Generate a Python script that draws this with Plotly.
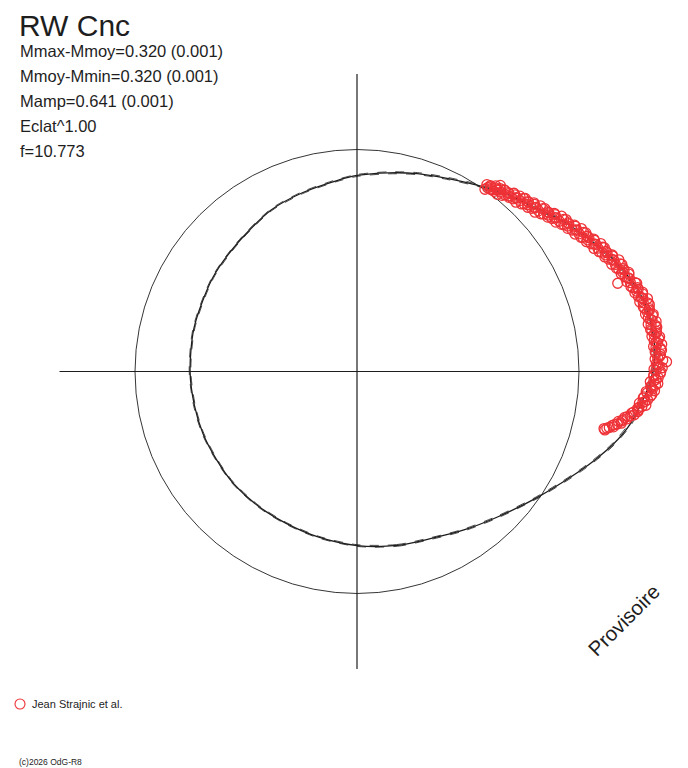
import numpy as np
import plotly.graph_objects as go

# ---------------- data ----------------
title = "RW Cnc"
info_lines = ["Mmax-Mmoy=0.320 (0.001)", "Mmoy-Mmin=0.320 (0.001)",
              "Mamp=0.641 (0.001)", "Eclat^1.00", "f=10.773"]
legend_label = "Jean Strajnic et al."
credit = "(c)2026 OdG-R8"
watermark = "Provisoire"

# fitted light curve in polar form: angle (deg, counter-clockwise from +x) and radius (relative flux)
fit_angle = [-90, -77, -66, -56, -46, -35, -28, -24, -20, -16, -11, -6, -2, 2, 5, 8, 14, 21,
             29, 36, 42, 50, 57, 65, 73, 81, 90, 96, 107, 118, 133, 147, 165, 180, 192, 202,
             212, 222, 234, 245, 257, 270]
fit_radius = [0.784, 0.804, 0.823, 0.861, 0.911, 0.990, 1.055, 1.100, 1.148, 1.198, 1.252,
              1.292, 1.322, 1.340, 1.346, 1.343, 1.330, 1.282, 1.211, 1.150, 1.094, 1.045,
              1.000, 0.960, 0.932, 0.906, 0.883, 0.865, 0.842, 0.824, 0.790, 0.775, 0.760,
              0.752, 0.748, 0.748, 0.747, 0.751, 0.752, 0.755, 0.766, 0.784]
fit_error = 0.005

# observations (angle deg, radius), two interleaved runs
obs_angle_a = [55.2, 54.6, 54.1, 53.5, 53.0, 52.4, 51.9, 51.2, 50.8, 50.1, 49.5, 48.9, 48.2, 47.6,
               47.1, 46.4, 45.8, 45.1, 44.6, 43.9, 43.3, 42.8, 42.1, 41.5, 40.9, 40.2, 39.6, 39.0,
               38.4, 37.9, 37.2, 36.6, 36.0, 35.4, 34.9, 34.2, 33.6, 33.0, 32.5, 31.8, 31.2, 30.7,
               30.0, 29.5, 28.9, 28.3, 27.7, 27.1, 26.6, 26.0, 25.4, 24.8, 24.3, 23.7, 23.1, 22.5,
               22.0, 21.4, 20.8, 20.3, 19.7, 19.1, 18.7, 18.0, 17.5, 16.9, 16.3, 15.8, 15.2, 14.6,
               14.1, 13.5, 12.9, 12.4, 11.8, 11.2, 10.7, 10.1, 9.5, 9.0, 8.4, 7.9, 7.3, 6.8, 6.2,
               5.7, 5.1, 4.6, 4.0, 3.5, 2.9, 2.4, 1.8, 1.3, 0.7, 0.2, -0.4, -0.9, -1.5, -2.0, -2.6,
               -3.1, -3.7, -4.2, -4.8, -5.3, -5.9, -6.4, -7.0, -7.5, -8.1, -8.6, -9.2, -9.7, -10.3,
               -10.8, -11.4, -11.9, -12.5, -13.0, 52.4]
obs_radius_a = [1.025, 1.016, 1.027, 1.019, 1.036, 1.032, 1.046, 1.036, 1.053, 1.038, 1.054, 1.041,
                1.067, 1.059, 1.078, 1.063, 1.087, 1.066, 1.085, 1.067, 1.098, 1.087, 1.113, 1.092,
                1.120, 1.100, 1.122, 1.105, 1.138, 1.128, 1.157, 1.135, 1.164, 1.143, 1.163, 1.147,
                1.181, 1.172, 1.198, 1.177, 1.205, 1.183, 1.206, 1.188, 1.222, 1.213, 1.240, 1.219,
                1.246, 1.226, 1.247, 1.230, 1.263, 1.255, 1.282, 1.260, 1.287, 1.266, 1.287, 1.269,
                1.301, 1.291, 1.240, 1.295, 1.321, 1.299, 1.320, 1.301, 1.333, 1.323, 1.349, 1.326,
                1.351, 1.327, 1.345, 1.325, 1.355, 1.343, 1.366, 1.341, 1.365, 1.341, 1.359, 1.338,
                1.367, 1.354, 1.378, 1.351, 1.375, 1.349, 1.366, 1.344, 1.395, 1.355, 1.375, 1.347,
                1.366, 1.337, 1.348, 1.322, 1.346, 1.327, 1.343, 1.311, 1.327, 1.295, 1.305, 1.280,
                1.293, 1.275, 1.278, 1.252, 1.249, 1.224, 1.218, 1.199, 1.196, 1.176, 1.164, 1.142,
                1.058]
obs_angle_b = [54.93, 54.33, 53.83, 53.23, 52.73, 52.13, 51.63, 50.93, 50.53, 49.83, 49.23, 48.63,
               47.93, 47.33, 46.83, 46.13, 45.53, 44.83, 44.33, 43.63, 43.03, 42.53, 41.83, 41.23,
               40.63, 39.93, 39.33, 38.73, 38.13, 37.63, 36.93, 36.33, 35.73, 35.13, 34.63, 33.93,
               33.33, 32.73, 32.23, 31.53, 30.93, 30.43, 29.73, 29.23, 28.63, 28.03, 27.43, 26.83,
               26.33, 25.73, 25.13, 24.53, 24.03, 23.43, 22.83, 22.23, 21.73, 21.13, 20.53, 20.03,
               19.43, 18.83, 18.43, 17.73, 17.23, 16.63, 16.03, 15.53, 14.93, 14.33, 13.83, 13.23,
               12.63, 12.13, 11.53, 10.93, 10.43, 9.83, 9.23, 8.73, 8.13, 7.63, 7.03, 6.53, 5.93,
               5.43, 4.83, 4.33, 3.73, 3.23, 2.63, 2.13, 1.53, 1.03, 0.43, -0.07, -0.67, -1.17,
               -1.77, -2.27, -2.87, -3.37, -3.97, -4.47, -5.07, -5.57, -6.17, -6.67, -7.27, -7.77,
               -8.37, -8.87, -9.47, -9.97, -10.57, -11.07, -11.67, -12.17, -12.77, -13.27]
obs_radius_b = [1.003, 1.030, 1.019, 1.044, 1.020, 1.036, 1.018, 1.053, 1.028, 1.055, 1.045, 1.070,
                1.048, 1.064, 1.046, 1.082, 1.058, 1.086, 1.075, 1.101, 1.077, 1.093, 1.076, 1.113,
                1.091, 1.120, 1.112, 1.139, 1.117, 1.134, 1.120, 1.156, 1.135, 1.163, 1.153, 1.181,
                1.160, 1.178, 1.161, 1.198, 1.176, 1.203, 1.196, 1.222, 1.201, 1.219, 1.203, 1.240,
                1.217, 1.246, 1.237, 1.264, 1.242, 1.261, 1.245, 1.281, 1.258, 1.286, 1.277, 1.303,
                1.280, 1.297, 1.281, 1.316, 1.292, 1.319, 1.310, 1.335, 1.312, 1.329, 1.312, 1.347,
                1.322, 1.347, 1.335, 1.359, 1.334, 1.349, 1.329, 1.362, 1.336, 1.361, 1.349, 1.372,
                1.346, 1.360, 1.341, 1.372, 1.346, 1.369, 1.356, 1.378, 1.349, 1.361, 1.338, 1.368,
                1.337, 1.357, 1.338, 1.356, 1.325, 1.333, 1.306, 1.332, 1.298, 1.315, 1.295, 1.310,
                1.280, 1.279, 1.259, 1.264, 1.235, 1.234, 1.213, 1.213, 1.184, 1.182, 1.154, 1.147]

# ---------------- layout constants ----------------
page_margin = 8            # the browser's default body margin
W, H = 688 - page_margin, 768 - page_margin
cx, cy = 357.0 - page_margin, 371.5 - page_margin   # pixel position of the origin in the figure
unit = 222.0               # pixels per unit radius
axis_half = 1.34
ink = "#1e1e1e"
red = "#ee3237"


def px(v):
    return v - page_margin


def polar_xy(ang, rad):
    a = np.deg2rad(np.asarray(ang, float))
    r = np.asarray(rad, float)
    return r * np.cos(a), r * np.sin(a)


fig = go.Figure()

fx, fy = polar_xy(fit_angle, fit_radius)
for k, dash, w in [(1 + fit_error, "dash", 0.8), (1 - fit_error, "dash", 0.8), (1.0, "solid", 1.3)]:
    fig.add_trace(go.Scatter(x=fx * k, y=fy * k, mode="lines",
                             line=dict(color=ink, width=w, dash=dash, shape="spline", smoothing=0.8),
                             hoverinfo="skip", showlegend=False))

ox, oy = polar_xy(obs_angle_a + obs_angle_b, obs_radius_a + obs_radius_b)
fig.add_trace(go.Scatter(x=ox, y=oy, mode="markers", name=legend_label,
                         marker=dict(symbol="circle-open", size=10, color=red,
                                     line=dict(width=1.3, color=red)),
                         showlegend=False))

shapes = [
    dict(type="line", xref="x", yref="y", x0=-axis_half, x1=axis_half, y0=0, y1=0,
         line=dict(color=ink, width=1.2), layer="below"),
    dict(type="line", xref="x", yref="y", x0=0, x1=0, y0=-axis_half, y1=axis_half,
         line=dict(color=ink, width=1.2), layer="below"),
    dict(type="circle", xref="x", yref="y", x0=-1, x1=1, y0=-1, y1=1,
         line=dict(color=ink, width=0.9), layer="below"),
    # legend key
    dict(type="circle", xref="paper", yref="paper", xsizemode="pixel", ysizemode="pixel",
         xanchor=px(20) / W, yanchor=1 - px(704) / H, x0=-5, x1=5, y0=-5, y1=5,
         line=dict(color=red, width=1.1)),
]

font = "Liberation Sans, Arial, sans-serif"


def label(text, x, y, size, **kw):
    d = dict(text=text, x=px(x) / W, y=1 - px(y) / H, xref="paper", yref="paper",
             xanchor="left", yanchor="middle", showarrow=False,
             font=dict(family=font, size=size, color=ink))
    d.update(kw)
    return d


# title: anchored at the top edge so its text box stays inside the figure
ann = [dict(text=title, x=px(18) / W, y=1.0, xref="paper", yref="paper", xanchor="left",
            yanchor="top", borderpad=0, showarrow=False,
            font=dict(family=font, size=30, color=ink))]
for i, t in enumerate(info_lines):
    ann.append(label(t, 18, 51 + 25 * i, 16.5))
ann.append(label(legend_label, 30, 704, 11))
ann.append(label(credit, 17, 762, 8.5))
ann.append(label(watermark, 623, 620, 20.5, xanchor="center", textangle=-45))

fig.update_layout(
    width=W, height=H, margin=dict(l=0, r=0, t=0, b=0),
    paper_bgcolor="white", plot_bgcolor="white",
    xaxis=dict(range=[-cx / unit, (W - cx) / unit], visible=False, fixedrange=True),
    yaxis=dict(range=[-(H - cy) / unit, cy / unit], visible=False, fixedrange=True),
    shapes=shapes, annotations=ann, showlegend=False,
)

fig.write_html("out.html")
